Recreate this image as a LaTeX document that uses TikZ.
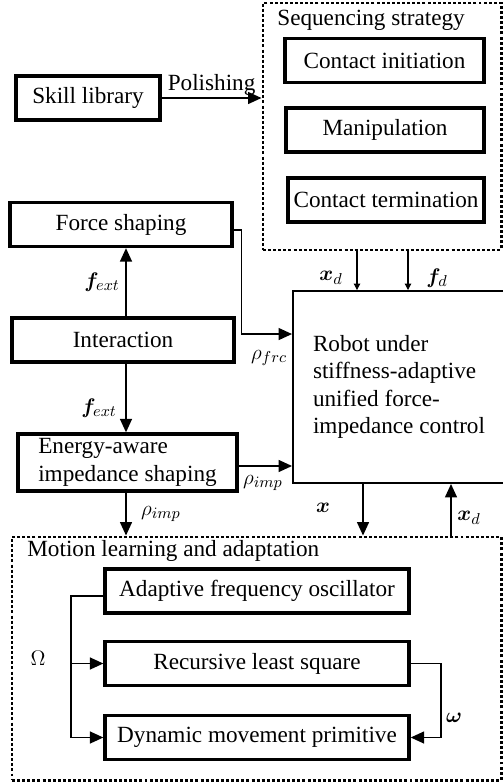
\documentclass[tikz,border=0pt]{standalone}
\usepackage{amsmath}
\usepackage{bm}
\usepackage{fontspec}
\setmainfont{Liberation Serif}
\usetikzlibrary{arrows.meta,positioning,calc}

\begin{document}
\begin{tikzpicture}[
  every node/.style={font=\fontsize{13.2}{15.6}\selectfont},
  blk/.style={draw,line width=1.9pt,minimum height=0.88cm,inner sep=2pt},
  dotbox/.style={draw,line width=1.7pt,dash pattern=on 1.7pt off 1.2pt},
  arr/.style={line width=0.85pt,-{Triangle[length=0.27cm,width=0.24cm]}},
  sarr/.style={line width=0.6pt,-{Triangle[length=0.13cm,width=0.13cm]}}]
  \useasboundingbox (0,0) rectangle (10.04,-15.68);

  % sequencing block
  \node[dotbox,minimum width=4.76cm,minimum height=4.94cm] (seq) at (7.64,-2.53) {};
  \node[anchor=west,inner sep=0pt] (seqlbl) at (5.54,-0.40) {Sequencing strategy};
  \node[blk,minimum width=3.98cm] (init) at (7.69,-1.21) {Contact initiation};
  \node[blk,minimum width=3.96cm] (manip) at (7.70,-2.60) {Manipulation};
  \node[blk,minimum width=3.92cm] (term) at (7.72,-4.00) {Contact termination};

  % left column
  \node[blk,minimum width=2.88cm] (skill) at (1.76,-1.96) {Skill library};
  \node[blk,minimum width=4.44cm] (force) at (2.42,-4.49) {Force shaping};
  \node[blk,minimum width=4.44cm] (inter) at (2.46,-6.80) {Interaction};
  \node[blk,minimum width=4.38cm,minimum height=1.14cm,align=left]
    (energy) at (2.55,-9.25) {Energy-aware\\impedance shaping};

  % controller
  \node[draw,line width=1.1pt,minimum width=4.24cm,minimum height=3.84cm,align=left]
    (robot) at (7.98,-7.74) {Robot under\\stiffness-adaptive\\unified force-\\impedance control};

  % motion block
  \node[dotbox,minimum width=9.78cm,minimum height=4.86cm] (motion) at (5.13,-13.17) {};
  \node[anchor=west,inner sep=0pt] (motlbl) at (0.54,-11.02) {Motion learning and adaptation};
  \node[blk,minimum width=6.08cm] (afo) at (5.14,-11.82) {Adaptive frequency oscillator};
  \node[blk,minimum width=6.08cm] (rls) at (5.14,-13.27) {Recursive least square};
  \node[blk,minimum width=6.08cm] (dmp) at (5.14,-14.75) {Dynamic movement primitive};

  \coordinate (fx) at (2.52,0);
  \coordinate (xa) at (7.14,0);
  \coordinate (fa) at (8.16,0);
  \coordinate (xr) at (7.26,0);
  \coordinate (xb) at (9.02,0);
  \coordinate (om) at (1.42,0);
  \coordinate (wr) at (8.82,0);

  \draw[arr] (skill.east) -- (skill.east -| seq.west)
    node[midway,above,inner sep=1pt] (pol) {Polishing};
  \draw[arr] (inter.north -| fx) -- (force.south -| fx);
  \draw[arr] (inter.south -| fx) -- (energy.north -| fx);
  \draw[arr] ([yshift=-0.11cm]force.east) -- ++(0.16,0) |- ([yshift=-0.88cm]robot.north west);
  \draw[arr] ([yshift=-0.07cm]energy.east) -- ([yshift=-0.07cm]energy.east -| robot.west);
  \draw[sarr] (seq.south -| xa) -- (robot.north -| xa);
  \draw[sarr] (seq.south -| fa) -- (robot.north -| fa);
  \draw[arr] (energy.south -| fx) -- (motion.north -| fx);
  \draw[arr] (robot.south -| xr) -- (motion.north -| xr);
  \draw[arr] (motion.north -| xb) -- (robot.south -| xb);
  \draw[arr] ([yshift=-0.1cm]afo.west) -| (om |- dmp.west) -- (dmp.west);
  \draw[arr] (om |- rls.west) -- (rls.west);
  \draw[arr] (rls.east) -| (wr |- dmp.east) -- (dmp.east);

  % signal labels
  \node (xdlbl) at (6.62,-5.56) {$\bm{x}_d$};
  \node (fdlbl) at (8.74,-5.56) {$\bm{f}_d$};
  \node (fup) at (2.04,-5.64) {$\bm{f}_{ext}$};
  \node (fdn) at (1.98,-8.16) {$\bm{f}_{ext}$};
  \node (rfrc) at (5.38,-7.16) {$\rho_{frc}$};
  \node (rimpa) at (5.26,-9.66) {$\rho_{imp}$};
  \node (rimpb) at (3.22,-10.28) {$\rho_{imp}$};
  \node (xlbl) at (6.46,-10.16) {$\bm{x}$};
  \node (xdb) at (9.38,-10.36) {$\bm{x}_d$};
  \node (omg) at (0.76,-13.16) {$\Omega$};
  \node (wlbl) at (9.08,-14.36) {$\bm{\omega}$};
\end{tikzpicture}
\end{document}
